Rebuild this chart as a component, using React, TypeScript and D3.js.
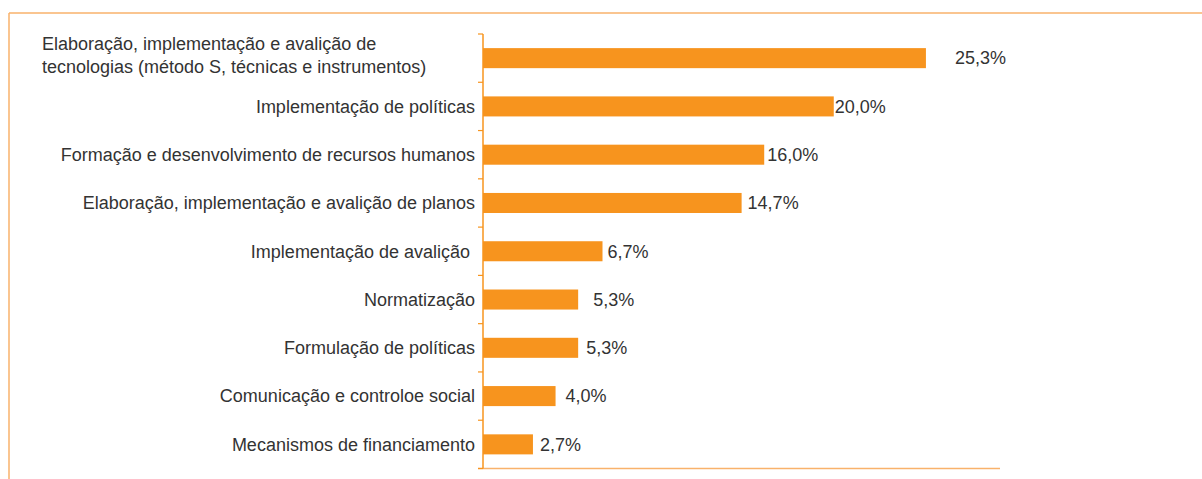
import React from "react";
import * as d3 from "d3";

const categories: string[] = [
  "Elaboração, implementação e avalição de tecnologias (método S, técnicas e instrumentos)",
  "Implementação de políticas",
  "Formação e desenvolvimento de recursos humanos",
  "Elaboração, implementação e avalição de planos",
  "Implementação de avalição ",
  "Normatização",
  "Formulação de políticas",
  "Comunicação e controloe social",
  "Mecanismos de financiamento",
];

const firstLabelLines: string[] = [
  "Elaboração, implementação e avalição de",
  "tecnologias (método S, técnicas e instrumentos)",
];

const values: number[] = [25.3, 20.0, 16.0, 14.7, 6.7, 5.3, 5.3, 4.0, 2.7];

const valueLabels: string[] = ["25,3%", "20,0%", "16,0%", "14,7%", "6,7%", "5,3%", "5,3%", "4,0%", "2,7%"];

// manual label nudges (layout, px)
const labelDx: number[] = [29, 1, 3, 6, 5, 15, 8, 10, 7];

const W = 1202;
const H = 479;
const axisX = 483;
const zeroX = 486;
const axisRight = 1000;
const top = 34;
const bottom = 468.5;

const BAR = "#F7941E";
const AXIS = "#F7941E";
const FRAME = "#F9B26B";
const TEXT = "#333333";
const FONT = "'Liberation Sans', Arial, sans-serif";

export default function App() {
  const x = d3.scaleLinear().domain([0, 29.56]).range([zeroX, axisRight]);
  const y = d3
    .scaleBand<number>()
    .domain(d3.range(categories.length))
    .range([top, bottom])
    .paddingInner(0.585)
    .paddingOuter(0.2925);
  const step = y.step();
  const boundaries = d3.range(categories.length + 1).map((i) => top + i * step);

  return (
    <svg
      width={W}
      height={H}
      style={{ position: "absolute", left: 0, top: 0, background: "#fff" }}
      fontFamily={FONT}
    >
      <line x1={9} y1={13} x2={W} y2={13} stroke={FRAME} strokeWidth={1.5} />
      <line x1={9} y1={13} x2={9} y2={H} stroke={FRAME} strokeWidth={1.5} />

      {values.map((v, i) => (
        <rect
          key={"b" + i}
          x={axisX}
          y={y(i)!}
          width={x(v) - axisX}
          height={y.bandwidth()}
          fill={BAR}
        />
      ))}

      <line x1={axisX - 5} y1={bottom} x2={axisRight} y2={bottom} stroke={FRAME} strokeWidth={1.5} />
      <line x1={axisX} y1={top} x2={axisX} y2={bottom} stroke={AXIS} strokeWidth={1.5} />
      {boundaries.map((b, i) => (
        <line key={"t" + i} x1={axisX - 5} y1={b} x2={axisX} y2={b} stroke={AXIS} strokeWidth={1.2} />
      ))}

      {categories.map((c, i) => {
        const cy = y(i)! + y.bandwidth() / 2;
        if (i === 0) {
          return (
            <text key={"c" + i} fontSize={18} fill={TEXT}>
              <tspan x={42} y={cy - 8}>{firstLabelLines[0]}</tspan>
              <tspan x={42} y={cy + 15}>{firstLabelLines[1]}</tspan>
            </text>
          );
        }
        return (
          <text
            key={"c" + i}
            x={axisX - 8}
            y={cy}
            dy="0.35em"
            textAnchor="end"
            fontSize={18}
            fill={TEXT}
            style={{ whiteSpace: "pre" }}
          >
            {c}
          </text>
        );
      })}

      {values.map((v, i) => (
        <text
          key={"v" + i}
          x={x(v) + labelDx[i]}
          y={y(i)! + y.bandwidth() / 2}
          dy="0.35em"
          fontSize={18}
          fill={TEXT}
        >
          {valueLabels[i]}
        </text>
      ))}
    </svg>
  );
}
